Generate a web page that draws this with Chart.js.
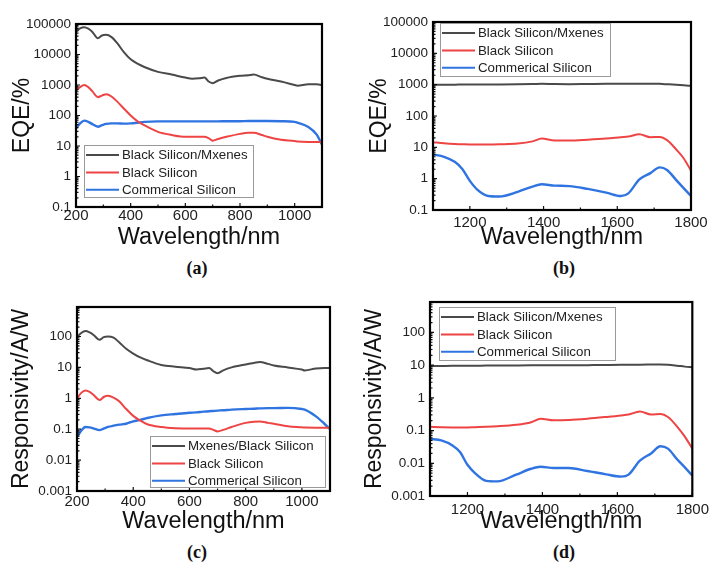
<!DOCTYPE html>
<html>
<head>
<meta charset="utf-8">
<script src="https://cdn.jsdelivr.net/npm/chart.js@4.4.1/dist/chart.umd.min.js"></script>
<style>
  body { margin: 0; background: #fff; }
  #wrap { position: relative; width: 714px; height: 568px; overflow: hidden; }
  canvas { position: absolute; }
  .tag { position: absolute; font: bold 18px "Liberation Serif", "Times New Roman", serif; color: #111; transform: translate(-50%, -50%); }
</style>
</head>
<body>
<div id="wrap">
  <canvas id="chartA" width="357" height="255" style="left:0;top:0"></canvas>
  <canvas id="chartB" width="357" height="255" style="left:357px;top:0"></canvas>
  <canvas id="chartC" width="357" height="255" style="left:0;top:284px"></canvas>
  <canvas id="chartD" width="357" height="255" style="left:357px;top:284px"></canvas>
  <div class="tag" style="left:197px;top:268px">(a)</div>
  <div class="tag" style="left:564px;top:268px">(b)</div>
  <div class="tag" style="left:197px;top:552px">(c)</div>
  <div class="tag" style="left:564px;top:552px">(d)</div>
</div>
<script>
// ---- data ----
const waveVis = [200, 215, 230, 245, 260, 280, 295, 310, 330, 350, 375, 400, 425, 450, 500, 550, 600, 625, 650, 670, 685, 700, 720, 750, 800, 830, 850, 880, 900, 950, 1000, 1010, 1050, 1080, 1100];
const waveIR = [1100, 1130, 1160, 1180, 1200, 1220, 1250, 1280, 1330, 1370, 1395, 1430, 1470, 1520, 1570, 1610, 1630, 1660, 1690, 1715, 1735, 1760, 1780, 1800];

// (a) EQE, visible
const eqeMxVis = [56000, 72000, 78000, 70000, 55000, 34000, 42000, 44000, 37000, 24000, 12000, 7000, 5000, 3900, 2700, 2200, 1750, 1600, 1650, 1750, 1300, 1150, 1400, 1700, 2000, 2100, 2200, 1800, 1600, 1300, 1000, 950, 1050, 1050, 1000];
const eqeBsVis = [650, 850, 1000, 850, 620, 400, 450, 500, 420, 290, 170, 100, 65, 48, 29, 23, 20, 20, 20, 20, 18, 15, 17, 20, 25, 27, 27, 23, 20, 16, 14.5, 14, 13.5, 13.5, 13.5];
const eqeCsVis = [38, 55, 68, 62, 52, 43, 48, 53, 55, 55, 54, 55, 58, 62, 64, 64, 64, 64, 64, 64, 64, 64, 64, 65, 65, 66, 66, 66, 66, 65, 62, 58, 42, 24, 11];

// (b) EQE, infrared
const eqeMxIR = [1000, 1000, 1000, 1010, 1010, 1010, 1020, 1020, 1030, 1050, 1070, 1050, 1040, 1050, 1060, 1060, 1060, 1070, 1070, 1060, 1030, 990, 950, 920];
const eqeBsIR = [14.5, 13.5, 12.8, 12.5, 12.3, 12.3, 12.3, 12.5, 13.2, 15.5, 19, 16.5, 16.5, 17.5, 19, 21, 22, 26, 21, 21.5, 17, 8.5, 4.5, 1.8];
const eqeCsIR = [5.9, 5.0, 3.4, 2.0, 0.85, 0.45, 0.28, 0.27, 0.38, 0.56, 0.66, 0.6, 0.58, 0.47, 0.36, 0.28, 0.34, 0.95, 1.5, 2.3, 1.9, 0.9, 0.5, 0.28];

// (c) responsivity, visible
const resMxVis = [95, 130, 150, 135, 110, 78, 95, 100, 92, 65, 40, 28, 21, 17, 12, 10.5, 9.5, 8.5, 9, 9.5, 7.5, 6.5, 8, 10, 12.5, 14, 15, 13, 11.5, 10, 8.5, 8, 9.2, 9.5, 9.5];
const resBsVis = [0.98, 1.5, 1.8, 1.6, 1.25, 0.88, 1.1, 1.2, 1.05, 0.8, 0.45, 0.27, 0.19, 0.145, 0.118, 0.108, 0.105, 0.105, 0.105, 0.105, 0.095, 0.085, 0.095, 0.118, 0.16, 0.175, 0.178, 0.16, 0.15, 0.125, 0.115, 0.113, 0.112, 0.112, 0.112];
const resCsVis = [0.056, 0.09, 0.118, 0.115, 0.105, 0.093, 0.105, 0.118, 0.13, 0.14, 0.15, 0.18, 0.2, 0.23, 0.28, 0.31, 0.34, 0.35, 0.37, 0.38, 0.39, 0.4, 0.41, 0.43, 0.45, 0.46, 0.47, 0.48, 0.48, 0.49, 0.45, 0.43, 0.26, 0.15, 0.1];

// (d) responsivity, infrared
const resMxIR = [9.3, 9.4, 9.5, 9.5, 9.6, 9.6, 9.7, 9.7, 9.8, 9.9, 10, 9.9, 9.9, 10, 10.1, 10.2, 10.3, 10.3, 10.4, 10.5, 10.3, 9.6, 9.0, 8.6];
const resBsIR = [0.13, 0.127, 0.125, 0.124, 0.125, 0.127, 0.13, 0.135, 0.15, 0.18, 0.23, 0.205, 0.21, 0.23, 0.26, 0.29, 0.31, 0.38, 0.31, 0.32, 0.26, 0.13, 0.065, 0.028];
const resCsIR = [0.056, 0.05, 0.035, 0.022, 0.009, 0.005, 0.0029, 0.0028, 0.0045, 0.0068, 0.0078, 0.0072, 0.0072, 0.0058, 0.0046, 0.0039, 0.0045, 0.012, 0.02, 0.033, 0.028, 0.013, 0.0075, 0.0042];

const labelsStd = ["Black Silicon/Mxenes", "Black Silicon", "Commerical Silicon"];
const labelsC = ["Mxenes/Black Silicon", "Black Silicon", "Commerical Silicon"];

const xTicksVis = [200, 400, 600, 800, 1000];
const xTicksIR = [1200, 1400, 1600, 1800];
const yTicksEqe = [0.1, 1, 10, 100, 1000, 10000, 100000];
const yTicksRes = [0.001, 0.01, 0.1, 1, 10, 100];

const colors = ["#4a4a4a", "#ee4444", "#2f74e0"];
const FONT = '"Liberation Sans", Arial, sans-serif';

const pts = (xs, ys) => xs.map((x, i) => ({ x: x, y: ys[i] }));

// frame, inward ticks and boxed legend
const framePlugin = {
  id: 'frame',
  afterDatasetsDraw(chart, args, o) {
    const { ctx, chartArea: a, scales } = chart;
    ctx.save();
    ctx.strokeStyle = '#111';
    ctx.lineWidth = 1.2;
    ctx.beginPath();
    for (let v = scales.x.min; v <= scales.x.max; v += 100) {
      const px = scales.x.getPixelForValue(v);
      ctx.moveTo(px, a.bottom);
      ctx.lineTo(px, a.bottom - (v % 200 === 0 ? 4 : 2.5));
    }
    for (let d = scales.y.min; d < scales.y.max * 1.001; d *= 10) {
      for (let k = 1; k <= 9; k++) {
        const v = d * k;
        if (v > scales.y.max) break;
        const py = scales.y.getPixelForValue(v);
        ctx.moveTo(a.left, py);
        ctx.lineTo(a.left + (k === 1 ? 4 : 2.5), py);
      }
    }
    ctx.stroke();
    ctx.lineWidth = 2.2;
    ctx.strokeStyle = '#000';
    ctx.strokeRect(a.left, a.top, a.right - a.left, a.bottom - a.top);

    // legend
    const L = o.legend;
    ctx.fillStyle = '#fff';
    ctx.fillRect(L.x, L.y, L.w, L.h);
    ctx.lineWidth = 1;
    ctx.strokeStyle = '#9a9a9a';
    ctx.strokeRect(L.x + 0.5, L.y + 0.5, L.w, L.h);
    ctx.font = '13.3px ' + FONT;
    ctx.textBaseline = 'middle';
    chart.data.datasets.forEach((ds, i) => {
      const y = L.y + 10 + i * 17.4;
      ctx.strokeStyle = ds.borderColor;
      ctx.lineWidth = 2;
      ctx.beginPath();
      ctx.moveTo(L.x + 2, y);
      ctx.lineTo(L.x + 35, y);
      ctx.stroke();
      ctx.fillStyle = '#222';
      ctx.fillText(ds.label, L.x + 38, y + 0.5);
    });
    ctx.restore();
  }
};

function makeChart(id, p) {
  return new Chart(document.getElementById(id), {
    type: 'line',
    data: {
      datasets: p.series.map((ys, i) => ({
        label: p.labels[i],
        data: pts(p.wave, ys),
        borderColor: colors[i],
        borderWidth: i === 2 ? 2.4 : 2,
        pointRadius: 0,
        cubicInterpolationMode: 'monotone',
        fill: false
      }))
    },
    options: {
      responsive: false,
      animation: false,
      devicePixelRatio: 1,
      layout: { padding: { top: p.top, right: p.right, left: 0, bottom: 0 } },
      plugins: {
        legend: { display: false },
        tooltip: { enabled: false },
        frame: { legend: p.legend }
      },
      scales: {
        x: {
          type: 'linear',
          min: p.xMin, max: p.xMax,
          grid: { display: false, drawTicks: false },
          border: { display: false },
          afterBuildTicks: s => { s.ticks = p.xTicks.map(v => ({ value: v })); },
          afterFit: s => { s.height = p.xH; },
          ticks: { font: { family: FONT, size: 15 }, color: '#222', padding: p.xPad, maxRotation: 0, callback: v => String(v) },
          title: { display: true, text: 'Wavelength/nm', color: '#111', font: { family: FONT, size: 23.5 }, padding: { top: 0, bottom: 3 } }
        },
        y: {
          type: 'logarithmic',
          min: p.yMin, max: p.yMax,
          grid: { display: false, drawTicks: false },
          border: { display: false },
          afterBuildTicks: s => { s.ticks = p.yTicks.map(v => ({ value: v })); },
          afterFit: s => { s.width = p.yW; },
          ticks: { font: { family: FONT, size: 13.5 }, color: '#222', padding: 5, callback: v => String(v) },
          title: { display: true, text: p.yTitle, color: '#111', font: { family: FONT, size: 23 }, padding: { top: p.yTitlePad, bottom: 0 } }
        }
      }
    },
    plugins: [framePlugin]
  });
}

makeChart('chartA', {
  wave: waveVis, series: [eqeMxVis, eqeBsVis, eqeCsVis], labels: labelsStd,
  xMin: 200, xMax: 1100, xTicks: xTicksVis, yMin: 0.1, yMax: 100000, yTicks: yTicksEqe,
  yTitle: 'EQE/%', top: 24, right: 35, yW: 76, xH: 48, xPad: 0, yTitlePad: 9,
  legend: { x: 84, y: 145, w: 169, h: 52 }
});
makeChart('chartB', {
  wave: waveIR, series: [eqeMxIR, eqeBsIR, eqeCsIR], labels: labelsStd,
  xMin: 1100, xMax: 1800, xTicks: xTicksIR, yMin: 0.1, yMax: 100000, yTicks: yTicksEqe,
  yTitle: 'EQE/%', top: 22, right: 23, yW: 76, xH: 45, xPad: 4, yTitlePad: 9,
  legend: { x: 83, y: 23, w: 170, h: 53 }
});
makeChart('chartC', {
  wave: waveVis, series: [resMxVis, resBsVis, resCsVis], labels: labelsC,
  xMin: 200, xMax: 1100, xTicks: xTicksVis, yMin: 0.001, yMax: 900, yTicks: yTicksRes,
  yTitle: 'Responsivity/A/W', top: 23, right: 27, yW: 77, xH: 48, xPad: 2, yTitlePad: 8,
  legend: { x: 150, y: 152, w: 175, h: 51 }
});
makeChart('chartD', {
  wave: waveIR, series: [resMxIR, resBsIR, resCsIR], labels: labelsStd,
  xMin: 1100, xMax: 1800, xTicks: xTicksIR, yMin: 0.001, yMax: 850, yTicks: yTicksRes,
  yTitle: 'Responsivity/A/W', top: 18, right: 18, yW: 73, xH: 43, xPad: 5, yTitlePad: 4,
  legend: { x: 82, y: 23, w: 176, h: 53 }
});
</script>
</body>
</html>
